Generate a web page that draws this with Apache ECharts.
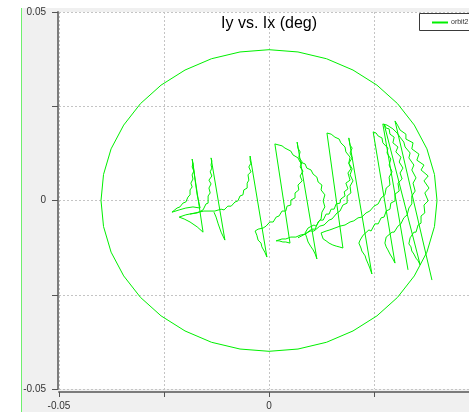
<!DOCTYPE html>
<html>
<head>
<meta charset="utf-8">
<script src="https://cdn.jsdelivr.net/npm/echarts@6.0.0/dist/echarts.min.js"></script>
<style>
html,body{margin:0;padding:0;width:469px;height:412px;overflow:hidden;background:#fff;}
#panel{position:absolute;left:22px;top:8px;width:447px;height:404px;background:#f0f0f0;}
#vline{position:absolute;left:21px;top:8px;width:1px;height:404px;background:#6ef06e;}
#chart{position:absolute;left:0;top:0;width:469px;height:412px;}
</style>
</head>
<body>
<div id="panel"></div>
<div id="vline"></div>
<div id="chart"></div>
<script>
// Axis ticks
const xTicks = [-0.05, -0.025, 0, 0.025, 0.05];
const yTicks = [-0.05, -0.025, 0, 0.025, 0.05];
const xLabels = ['-0.05', '', '0', '', '0.05'];
const yLabels = ['-0.05', '', '0', '', '0.05'];
const seriesName = 'orbit2.dat';
const titleText = 'Iy vs. Ix (deg)';

// Boundary circle (Ix, Iy)
const circle = [
  [0.0400,0],[0.0394,0.0069],[0.0376,0.0137],[0.0346,0.0200],[0.0306,0.0257],[0.0257,0.0306],
  [0.0200,0.0346],[0.0137,0.0376],[0.0069,0.0394],[0,0.0400],[-0.0069,0.0394],[-0.0137,0.0376],
  [-0.0200,0.0346],[-0.0257,0.0306],[-0.0306,0.0257],[-0.0346,0.0200],[-0.0376,0.0137],[-0.0394,0.0069],
  [-0.0400,0],[-0.0394,-0.0069],[-0.0376,-0.0137],[-0.0346,-0.0200],[-0.0306,-0.0257],[-0.0257,-0.0306],
  [-0.0200,-0.0346],[-0.0137,-0.0376],[-0.0069,-0.0394],[0,-0.0400],[0.0069,-0.0394],[0.0137,-0.0376],
  [0.0200,-0.0346],[0.0257,-0.0306],[0.0306,-0.0257],[0.0346,-0.0200],[0.0376,-0.0137],[0.0394,-0.0069],
  [0.0400,0]
];

// Orbit trace, first chain
const orbitA = [
  [-0.0181,0.0099],[-0.0176,0.0054],[-0.0171,0.0015],[-0.0164,-0.0020],[-0.0181,-0.0017],[-0.0198,-0.0020],
  [-0.0214,-0.0025],[-0.0231,-0.0031],[-0.0219,-0.0020],[-0.0212,-0.0017],[-0.0205,-0.0007],[-0.0198,-0.0004],
  [-0.0193,0.0009],[-0.0188,0.0015],[-0.0188,0.0028],[-0.0183,0.0036],[-0.0186,0.0046],[-0.0181,0.0057],
  [-0.0183,0.0068],[-0.0179,0.0078],[-0.0183,0.0089],[-0.0181,0.0099],[-0.0183,0.0110],
  [-0.0157,-0.0084],
  [-0.0171,-0.0070],[-0.0188,-0.0057],[-0.0202,-0.0049],[-0.0214,-0.0044],
  [-0.0198,-0.0038],[-0.0176,-0.0033],[-0.0155,-0.0028],[-0.0138,-0.0028],[-0.0129,-0.0028],
  [-0.0114,-0.0023],[-0.0107,-0.0025],[-0.0098,-0.0015],[-0.0090,-0.0015],[-0.0081,-0.0004],[-0.0074,-0.0001],
  [-0.0069,0.0012],[-0.0062,0.0015],[-0.0060,0.0028],[-0.0052,0.0033],[-0.0052,0.0046],[-0.0048,0.0054],
  [-0.0050,0.0068],[-0.0043,0.0076],[-0.0048,0.0089],[-0.0043,0.0099],[-0.0045,0.0107],[-0.0045,0.0118],
  [-0.0005,-0.0150],
  [-0.0010,-0.0137],[-0.0017,-0.0123],[-0.0019,-0.0113],[-0.0026,-0.0105],[-0.0029,-0.0092],[-0.0033,-0.0081],[-0.0026,-0.0076],
  [-0.0014,-0.0073],[-0.0007,-0.0068],[0.0002,-0.0057],[0.0010,-0.0057],[0.0017,-0.0044],[0.0024,-0.0041],
  [0.0031,-0.0028],[0.0040,-0.0028],[0.0043,-0.0015],[0.0052,-0.0012],[0.0052,0.0001],[0.0062,0.0007],
  [0.0062,0.0020],[0.0071,0.0028],[0.0069,0.0041],[0.0079,0.0052],[0.0074,0.0065],[0.0081,0.0078],
  [0.0074,0.0089],[0.0079,0.0102],[0.0071,0.0115],[0.0074,0.0129],[0.0069,0.0139],[0.0067,0.0155],
  [0.0114,-0.0155],
  [0.0110,-0.0142],[0.0105,-0.0131],[0.0100,-0.0123],[0.0093,-0.0110],[0.0090,-0.0099],[0.0086,-0.0086],[0.0093,-0.0073],
  [0.0107,-0.0065],[0.0112,-0.0068],[0.0121,-0.0052],[0.0129,-0.0052],[0.0136,-0.0036],[0.0143,-0.0036],
  [0.0148,-0.0023],[0.0155,-0.0023],[0.0160,-0.0009],[0.0169,-0.0007],[0.0171,0.0004],[0.0181,0.0012],
  [0.0179,0.0023],[0.0188,0.0031],[0.0183,0.0046],[0.0193,0.0054],[0.0188,0.0073],[0.0195,0.0084],
  [0.0190,0.0099],[0.0198,0.0113],[0.0193,0.0126],[0.0198,0.0139],[0.0193,0.0147],[0.0190,0.0166],
  [0.0245,-0.0195],
  [0.0240,-0.0179],[0.0236,-0.0168],[0.0231,-0.0155],[0.0229,-0.0147],[0.0221,-0.0134],[0.0219,-0.0126],
  [0.0214,-0.0113],[0.0217,-0.0105],[0.0224,-0.0092],
  [0.0238,-0.0078],[0.0243,-0.0081],[0.0252,-0.0062],[0.0260,-0.0062],[0.0267,-0.0046],[0.0274,-0.0044],
  [0.0279,-0.0028],[0.0288,-0.0023],[0.0290,-0.0007],[0.0300,-0.0001],[0.0300,0.0017],[0.0310,0.0025],
  [0.0307,0.0046],[0.0317,0.0057],[0.0312,0.0073],[0.0319,0.0086],[0.0310,0.0102],[0.0314,0.0115],
  [0.0302,0.0129],[0.0307,0.0142],[0.0295,0.0153],[0.0298,0.0168],[0.0288,0.0176],[0.0286,0.0190],
  [0.0279,0.0192],[0.0274,0.0203],
  [0.0360,-0.0171],
  [0.0355,-0.0160],[0.0350,-0.0153],[0.0345,-0.0142],[0.0340,-0.0134],[0.0338,-0.0123],[0.0333,-0.0115],[0.0336,-0.0099],
  [0.0345,-0.0084],[0.0350,-0.0084],[0.0355,-0.0065],[0.0362,-0.0060],[0.0362,-0.0041],[0.0371,-0.0033],
  [0.0369,-0.0012],[0.0379,-0.0001],[0.0371,0.0020],[0.0381,0.0033],[0.0369,0.0052],[0.0379,0.0065],
  [0.0362,0.0081],[0.0369,0.0094],[0.0352,0.0107],[0.0357,0.0123],[0.0340,0.0137],[0.0343,0.0153],
  [0.0326,0.0163],[0.0326,0.0176],[0.0312,0.0187],[0.0307,0.0198],[0.0300,0.0211],
  [0.0388,-0.0211]
];

// Orbit trace, second chain (left part)
const orbitB1 = [
  [-0.0188,-0.0036],[-0.0171,-0.0033],[-0.0157,-0.0025],[-0.0150,-0.0009],[-0.0145,-0.0007],[-0.0145,0.0012],
  [-0.0140,0.0020],[-0.0143,0.0033],[-0.0138,0.0044],[-0.0143,0.0054],[-0.0136,0.0065],[-0.0140,0.0076],
  [-0.0136,0.0086],[-0.0138,0.0094],[-0.0136,0.0105],[-0.0138,0.0113],
  [-0.0105,-0.0105],
  [-0.0114,-0.0084],[-0.0121,-0.0062],[-0.0126,-0.0044],[-0.0131,-0.0031]
];

// Orbit trace, second chain (right part)
const orbitB2 = [
  [0.0069,-0.0099],[0.0086,-0.0089],[0.0102,-0.0076],[0.0110,-0.0076],[0.0117,-0.0057],[0.0124,-0.0049],
  [0.0126,-0.0031],[0.0133,-0.0017],[0.0129,-0.0001],[0.0133,0.0015],[0.0124,0.0028],[0.0126,0.0041],
  [0.0117,0.0049],[0.0114,0.0062],[0.0105,0.0070],[0.0100,0.0081],[0.0090,0.0086],[0.0086,0.0097],
  [0.0074,0.0102],[0.0069,0.0113],[0.0057,0.0121],[0.0052,0.0131],[0.0038,0.0139],[0.0031,0.0145],
  [0.0024,0.0147],[0.0014,0.0150],
  [0.0050,-0.0113],
  [0.0040,-0.0110],[0.0033,-0.0110],[0.0024,-0.0107],[0.0017,-0.0107],
  [0.0031,-0.0102],[0.0040,-0.0102],[0.0052,-0.0097],[0.0064,-0.0097],[0.0074,-0.0092],[0.0086,-0.0089],
  [0.0098,-0.0081],[0.0107,-0.0081],[0.0121,-0.0068],[0.0131,-0.0065],[0.0143,-0.0052],[0.0150,-0.0049],
  [0.0162,-0.0033],[0.0169,-0.0028],[0.0176,-0.0012],[0.0186,-0.0007],[0.0186,0.0012],[0.0195,0.0020],
  [0.0193,0.0038],[0.0200,0.0052],[0.0193,0.0068],[0.0198,0.0084],[0.0190,0.0099],[0.0193,0.0115],
  [0.0183,0.0129],[0.0181,0.0142],[0.0171,0.0153],[0.0167,0.0163],[0.0157,0.0168],[0.0148,0.0176],
  [0.0138,0.0179],
  [0.0176,-0.0126],
  [0.0167,-0.0123],[0.0160,-0.0121],[0.0152,-0.0118],[0.0143,-0.0113],[0.0136,-0.0107],[0.0129,-0.0102],[0.0124,-0.0086],
  [0.0136,-0.0081],[0.0145,-0.0078],[0.0157,-0.0073],[0.0169,-0.0068],[0.0181,-0.0065],[0.0193,-0.0057],
  [0.0202,-0.0054],[0.0212,-0.0046],[0.0221,-0.0044],[0.0231,-0.0033],[0.0240,-0.0028],[0.0250,-0.0015],
  [0.0260,-0.0009],[0.0267,0.0007],[0.0276,0.0015],[0.0279,0.0033],[0.0288,0.0041],[0.0286,0.0062],
  [0.0293,0.0076],[0.0286,0.0094],[0.0290,0.0110],[0.0281,0.0126],[0.0283,0.0139],[0.0271,0.0153],
  [0.0269,0.0166],[0.0260,0.0171],[0.0255,0.0179],[0.0248,0.0182],
  [0.0300,-0.0166],
  [0.0295,-0.0155],[0.0293,-0.0150],[0.0288,-0.0142],[0.0283,-0.0131],[0.0279,-0.0123],[0.0276,-0.0113],[0.0279,-0.0097],
  [0.0293,-0.0084],[0.0298,-0.0084],[0.0307,-0.0068],[0.0314,-0.0062],[0.0321,-0.0046],[0.0329,-0.0038],
  [0.0333,-0.0020],[0.0340,-0.0009],[0.0340,0.0012],[0.0348,0.0025],[0.0343,0.0046],[0.0350,0.0060],
  [0.0340,0.0081],[0.0345,0.0094],[0.0333,0.0113],[0.0336,0.0126],[0.0324,0.0142],[0.0321,0.0155],
  [0.0312,0.0168],[0.0305,0.0179],[0.0295,0.0190],[0.0288,0.0195],[0.0281,0.0200],[0.0271,0.0203],
  [0.0331,-0.0184]
];

const GREEN = '#00f000';
const FONT = 'Liberation Sans, Arial, sans-serif';

function lbl(list, ticks) {
  return function (v) {
    for (let i = 0; i < ticks.length; i++) {
      if (Math.abs(v - ticks[i]) < 1e-9) return list[i];
    }
    return '';
  };
}

function mkSeries(data) {
  return {
    name: seriesName, type: 'line', data: data, symbol: 'none', showSymbol: false,
    lineStyle: { color: GREEN, width: 1 }, itemStyle: { color: GREEN },
    animation: false, silent: true, emphasis: { disabled: true }, clip: true
  };
}

const chart = echarts.init(document.getElementById('chart'), null, { renderer: 'canvas' });
chart.setOption({
  animation: false,
  backgroundColor: 'transparent',
  title: {
    text: titleText, left: 216, top: 11,
    textStyle: { fontSize: 16, fontWeight: 'normal', color: '#000', fontFamily: FONT }
  },
  legend: { show: false, data: [seriesName] },
  graphic: [{
    type: 'group', left: 419, top: 13, z: 100, silent: true,
    children: [
      { type: 'rect', shape: { x: 0.5, y: 0.5, width: 100, height: 17 },
        style: { fill: '#fff', stroke: '#3a3a3a', lineWidth: 1 } },
      { type: 'line', shape: { x1: 13, y1: 9.5, x2: 29, y2: 9.5 },
        style: { stroke: GREEN, lineWidth: 2 } },
      { type: 'text', x: 32, y: 9.5,
        style: { text: seriesName, fill: '#333', font: '7px ' + FONT, textVerticalAlign: 'middle', verticalAlign: 'middle' } }
    ]
  }],
  grid: {
    left: 59, top: 12, width: 420, height: 377,
    outerBoundsMode: 'none',
    show: true, backgroundColor: '#fff', borderWidth: 0, containLabel: false
  },
  xAxis: {
    type: 'value', min: xTicks[0], max: xTicks[xTicks.length - 1], interval: 0.025,
    position: 'bottom', offset: 3,
    axisLine: { show: true, onZero: false, lineStyle: { color: '#7c7c7c', width: 2 } },
    axisTick: { show: true, length: 5, lineStyle: { color: '#555' } },
    axisLabel: { formatter: lbl(xLabels, xTicks), fontSize: 10, color: '#333', margin: 9, fontFamily: FONT, showMinLabel: true, showMaxLabel: true },
    splitLine: { show: true, lineStyle: { color: '#c4c4c4', type: [2, 2], width: 1 } }
  },
  yAxis: {
    type: 'value', min: yTicks[0], max: yTicks[yTicks.length - 1], interval: 0.025,
    position: 'left', offset: 1,
    axisLine: { show: true, onZero: false, lineStyle: { color: '#7c7c7c', width: 2 } },
    axisTick: { show: true, length: 6, lineStyle: { color: '#555' } },
    axisLabel: { formatter: lbl(yLabels, yTicks), fontSize: 10, color: '#333', margin: 12, fontFamily: FONT, showMinLabel: true, showMaxLabel: true },
    splitLine: { show: true, lineStyle: { color: '#c4c4c4', type: [2, 2], width: 1 } }
  },
  series: [mkSeries(circle), mkSeries(orbitA), mkSeries(orbitB1), mkSeries(orbitB2)]
});
</script>
</body>
</html>
